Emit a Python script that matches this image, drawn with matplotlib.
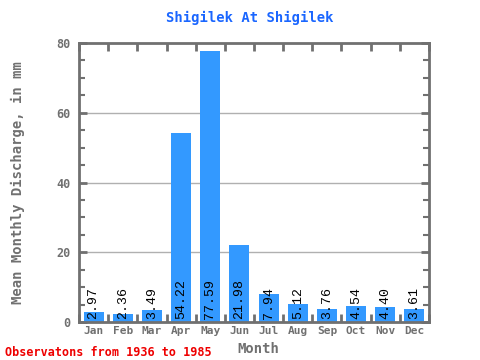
import matplotlib
matplotlib.use("Agg")
import matplotlib.pyplot as plt
import numpy as np

months = ["Jan", "Feb", "Mar", "Apr", "May", "Jun", "Jul", "Aug", "Sep", "Oct", "Nov", "Dec"]
values = [2.97, 2.36, 3.49, 54.22, 77.59, 21.98, 7.94, 5.12, 3.76, 4.54, 4.40, 3.61]
labels = ["2.97", "2.36", "3.49", "54.22", "77.59", "21.98", "7.94", "5.12", "3.76", "4.54", "4.40", "3.61"]
title = "Shigilek At Shigilek"
ylabel = "Mean Monthly Discharge, in mm"
xlabel = "Month"
footer = "Observatons from 1936 to 1985"

mono_b = "DejaVu Sans Mono"
gray = "#707070"

fig = plt.figure(figsize=(4.8, 3.6), dpi=100)
ax = fig.add_axes([79/480, 1 - 322/360, 350/480, 279/360])

x = np.arange(len(months))
ax.bar(x, values, width=0.69, color="#3399ff", zorder=2)
ax.set_xlim(-0.5, 11.5)
ax.set_ylim(0, 80)

for yy in [20, 40, 60]:
    ax.axhline(yy, color="#b0b0b0", lw=1, zorder=1)

for xi, lab in zip(x, labels):
    ax.text(xi, 1.0, lab, rotation=90, ha="center", va="bottom",
            family="Liberation Mono", fontsize=9.5, color="black", zorder=3)

for s in ax.spines.values():
    s.set_color(gray)
    s.set_linewidth(2)

ax.set_yticks([0, 20, 40, 60, 80])
ax.set_yticks(np.arange(0, 81, 5), minor=True)
ax.set_xticks(x)
ax.set_xticks(np.arange(-0.5, 12, 1), minor=True)
ax.tick_params(axis="x", which="major", length=0, pad=3, labelsize=8, labelcolor=gray)
ax.tick_params(axis="x", which="minor", direction="in", length=6, width=2, color=gray, top=True, bottom=True)
ax.tick_params(axis="y", which="major", direction="in", length=6, width=2, color=gray, left=True, right=True, labelsize=8.5, labelcolor=gray, pad=6)
ax.tick_params(axis="y", which="minor", direction="in", length=4, width=1.5, color=gray, left=True, right=True)
ax.set_xticklabels(months, family=mono_b, fontweight="bold")
ax.set_yticklabels(["0", "20", "40", "60", "80"], family=mono_b, fontweight="bold")

fig.text(250/480, 1 - 18/360, title, ha="center", va="center", family=mono_b,
         fontweight="bold", fontsize=10, color="#1a66ff")
fig.text(18/480, 1 - 183/360, ylabel, ha="center", va="center", rotation=90,
         family=mono_b, fontweight="bold", fontsize=10, color=gray)
fig.text(258/480, 1 - 349/360, xlabel, ha="center", va="center",
         family=mono_b, fontweight="bold", fontsize=10, color=gray)
fig.text(5/480, 1 - 352/360, footer, ha="left", va="center",
         family=mono_b, fontweight="bold", fontsize=8.5, color="#ee0000")

fig.savefig("out.png", dpi=100)
